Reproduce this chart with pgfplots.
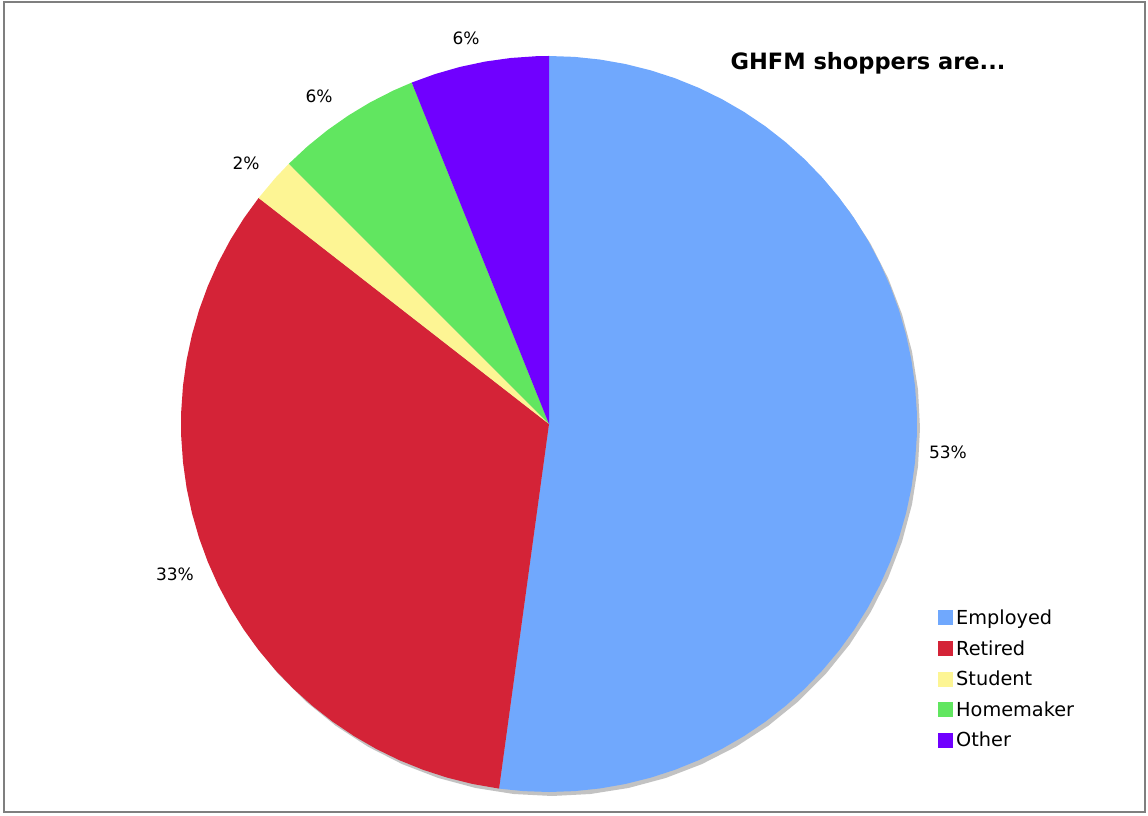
\documentclass[border=0pt]{standalone}
\usepackage{pgfplots}
\pgfplotsset{compat=1.18}
\usepackage{fontspec}
\setmainfont{DejaVu Sans}
\definecolor{empl}{HTML}{70A8FD}
\definecolor{reti}{HTML}{D42337}
\definecolor{stud}{HTML}{FDF594}
\definecolor{home}{HTML}{61E660}
\definecolor{othr}{HTML}{7000FF}
\definecolor{shad}{HTML}{C2C2C2}
\definecolor{frame}{HTML}{7F7F7F}
\begin{document}
\begin{tikzpicture}
\begin{axis}[
  width=1141bp, height=810bp, scale only axis,
  xmin=-545, xmax=596, ymin=-388, ymax=422,
  enlargelimits=false,
  xtick=\empty, ytick=\empty,
  axis line style={frame, line width=1.4bp},
  clip=false,
  legend cell align=left,
  legend image code/.code={\path[#1] (0bp,-7.5bp) rectangle (15bp,7.5bp);},
  legend style={at={(axis cs:386,-183.5)}, anchor=north west, draw=none, fill=none,
    font=\fontsize{19.3bp}{23bp}\selectfont, row sep=14.5bp,
    nodes={inner xsep=3bp, inner ysep=0bp}},
]
% shadow
\addplot[forget plot, fill=shad, draw=none, data cs=polar, xshift=3bp, yshift=-4bp] coordinates {
(0,368) (6,368) (12,368) (18,368) (24,368) (30,368) (36,368) (42,368) (48,368) (54,368)
(60,368) (66,368) (72,368) (78,368) (84,368) (90,368) (96,368) (102,368) (108,368) (114,368)
(120,368) (126,368) (132,368) (138,368) (144,368) (150,368) (156,368) (162,368) (168,368) (174,368)
(180,368) (186,368) (192,368) (198,368) (204,368) (210,368) (216,368) (222,368) (228,368) (234,368)
(240,368) (246,368) (252,368) (258,368) (264,368) (270,368) (276,368) (282,368) (288,368) (294,368)
(300,368) (306,368) (312,368) (318,368) (324,368) (330,368) (336,368) (342,368) (348,368) (354,368) (360,368)} -- cycle;
% Employed
\addplot[fill=empl, draw=none, data cs=polar] coordinates {
(0,0) (90,368) (86,368) (82,368) (78,368) (74,368) (70,368) (66,368) (62,368) (58,368) (54,368)
(50,368) (46,368) (42,368) (38,368) (34,368) (30,368) (26,368) (22,368) (18,368) (14,368)
(10,368) (6,368) (2,368) (-2,368) (-6,368) (-10,368) (-14,368) (-18,368) (-22,368) (-26,368)
(-30,368) (-34,368) (-38,368) (-42,368) (-46,368) (-50,368) (-54,368) (-58,368) (-62,368) (-66,368)
(-70,368) (-74,368) (-78,368) (-82,368) (-86,368) (-90,368) (-94,368) (-97.8,368)} -- cycle;
\addlegendentry{Employed}
% Retired
\addplot[fill=reti, draw=none, data cs=polar] coordinates {
(0,0) (-97.8,368) (-102,368) (-106,368) (-110,368) (-114,368) (-118,368) (-122,368) (-126,368)
(-130,368) (-134,368) (-138,368) (-142,368) (-146,368) (-150,368) (-154,368) (-158,368) (-162,368)
(-166,368) (-170,368) (-174,368) (-178,368) (-182,368) (-186,368) (-190,368) (-194,368) (-198,368)
(-202,368) (-206,368) (-210,368) (-214,368) (-217.9,368)} -- cycle;
\addlegendentry{Retired}
% Student
\addplot[fill=stud, draw=none, data cs=polar] coordinates {
(0,0) (-217.9,368) (-222,368) (-225,368)} -- cycle;
\addlegendentry{Student}
% Homemaker
\addplot[fill=home, draw=none, data cs=polar] coordinates {
(0,0) (-225,368) (-229,368) (-233,368) (-237,368) (-241,368) (-245,368) (-248.1,368)} -- cycle;
\addlegendentry{Homemaker}
% Other
\addplot[fill=othr, draw=none, data cs=polar] coordinates {
(0,0) (-248.1,368) (-252,368) (-256,368) (-260,368) (-264,368) (-268,368) (-270,368)} -- cycle;
\addlegendentry{Other}
% labels
\begin{scope}[every node/.style={font=\fontsize{17bp}{20bp}\selectfont, inner sep=0pt}]
\node at (axis cs:-83,386) {6\%};
\node at (axis cs:-230,328) {6\%};
\node at (axis cs:-303,261) {2\%};
\node at (axis cs:-374,-150) {33\%};
\node at (axis cs:399,-28) {53\%};
\end{scope}
\node[font=\fontsize{22.5bp}{26bp}\selectfont\bfseries, inner sep=0pt] at (axis cs:319,361) {GHFM shoppers are...};
\path (axis cs:-549,-391) rectangle (axis cs:599,424);
\end{axis}
\end{tikzpicture}
\end{document}
